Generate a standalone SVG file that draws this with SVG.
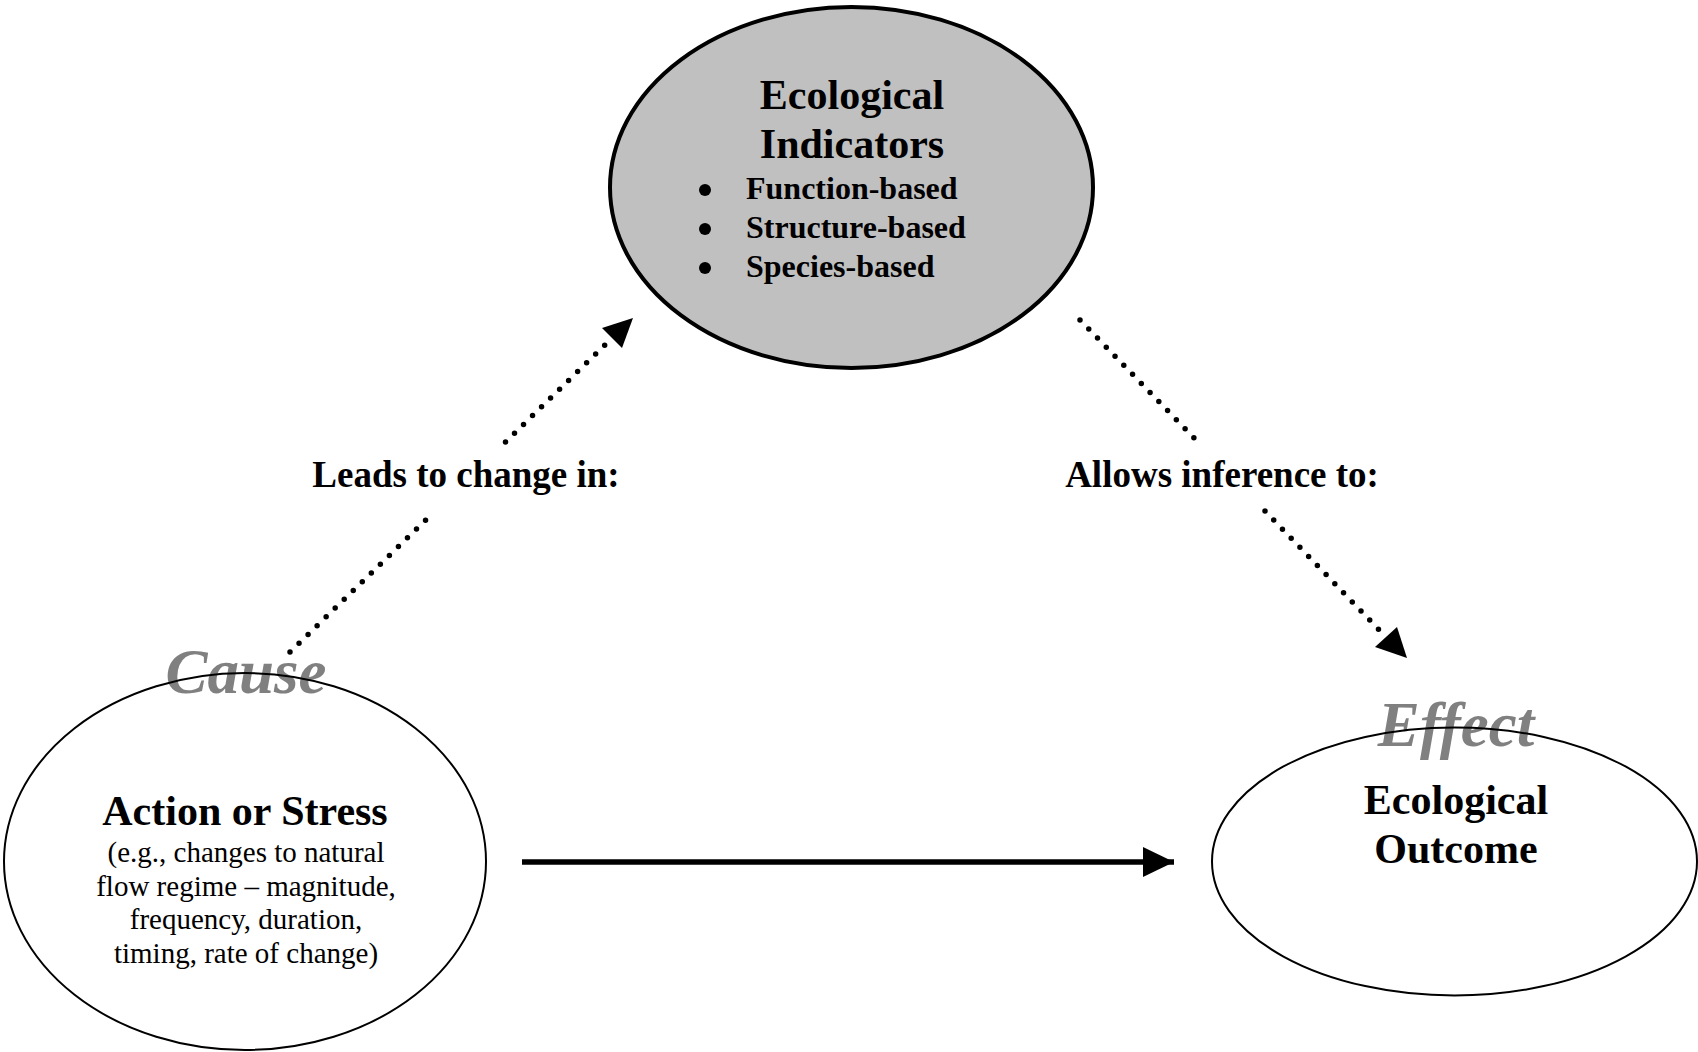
<svg xmlns="http://www.w3.org/2000/svg" width="1698" height="1052" viewBox="0 0 1698 1052">
  <style>
    text { font-family: "Liberation Serif", "Times New Roman", serif; fill: #000; text-anchor: middle; }
    .title { font-size: 42px; font-weight: bold; }
    .bullet { font-size: 32px; font-weight: bold; text-anchor: start; }
    .tag { font-size: 63px; font-weight: bold; font-style: italic; fill: #808080; }
    .sub { font-size: 29px; }
    .label { font-size: 37px; font-weight: bold; }
    .dotted { fill: none; stroke: #000; stroke-width: 5.5; stroke-linecap: round; stroke-dasharray: 0 12.6; }
    .solid { fill: none; stroke: #000; stroke-width: 5.5; }
    .outline { fill: none; stroke: #000; stroke-width: 2; }
  </style>
  <defs>
    <marker id="arrow" markerUnits="userSpaceOnUse" markerWidth="31" markerHeight="30" refX="31" refY="15" orient="auto">
      <path d="M0,0 L31,15 L0,30 Z" fill="#000"/>
    </marker>
  </defs>
  <rect width="1698" height="1052" fill="#fff"/>

  <g id="indicators">
    <ellipse cx="851.5" cy="187.5" rx="241.5" ry="180.5" fill="#c0c0c0" stroke="#000" stroke-width="4"/>
    <text class="title" x="852" y="109">Ecological</text>
    <text class="title" x="852" y="158">Indicators</text>
    <circle cx="705" cy="190" r="6"/>
    <circle cx="705" cy="229" r="6"/>
    <circle cx="705" cy="268" r="6"/>
    <text class="bullet" x="746" y="199">Function-based</text>
    <text class="bullet" x="746" y="238">Structure-based</text>
    <text class="bullet" x="746" y="277">Species-based</text>
  </g>

  <g id="cause">
    <text class="tag" x="246" y="693">Cause</text>
    <ellipse class="outline" cx="245" cy="861.5" rx="241" ry="188.5"/>
    <text class="title" x="245" y="825">Action or Stress</text>
    <text class="sub" x="246" y="862">(e.g., changes to natural</text>
    <text class="sub" x="246" y="896">flow regime – magnitude,</text>
    <text class="sub" x="246" y="929">frequency, duration,</text>
    <text class="sub" x="246" y="963">timing, rate of change)</text>
  </g>

  <g id="outcome">
    <text class="tag" x="1456" y="746">Effect</text>
    <ellipse class="outline" cx="1454.5" cy="861.5" rx="242.5" ry="134"/>
    <text class="title" x="1456" y="814">Ecological</text>
    <text class="title" x="1456" y="863">Outcome</text>
  </g>

  <g id="connectors">
    <path class="dotted" d="M290,652 L432,514"/>
    <path class="dotted" d="M505.5,442 L612,338"/>
    <path d="M633,318 L602,328 L622,348 Z" fill="#000"/>
    <path class="dotted" d="M1080,320 L1197,441"/>
    <path class="dotted" d="M1265,511 L1386,637"/>
    <path d="M1407,658 L1375,647 L1397,627 Z" fill="#000"/>
    <path class="solid" d="M522,862 L1174,862" marker-end="url(#arrow)"/>
  </g>

  <g id="labels">
    <text class="label" x="466" y="487">Leads to change in:</text>
    <text class="label" x="1222" y="487">Allows inference to:</text>
  </g>
</svg>
